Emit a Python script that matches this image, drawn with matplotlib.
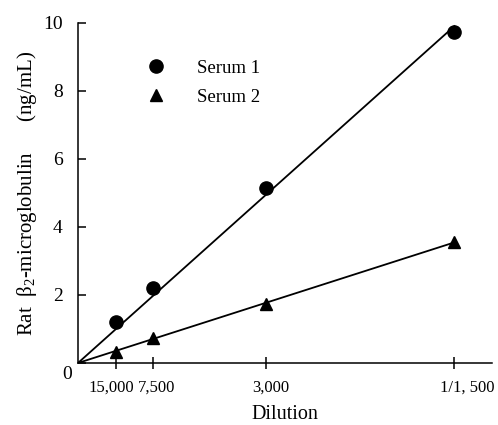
import matplotlib
matplotlib.use("Agg")
import matplotlib.pyplot as plt
import matplotlib.transforms as mtransforms
import numpy as np

plt.rcParams["font.family"] = ["Liberation Serif", "DejaVu Serif"]
plt.rcParams["mathtext.fontset"] = "custom"
plt.rcParams["mathtext.rm"] = "Liberation Serif"
plt.rcParams["mathtext.it"] = "Liberation Serif:italic"

# x = relative concentration (1/dilution, in units of 1/15000)
dilution_x = [1, 2, 5, 10]
dilution_labels = ["15,000", "7,500", "3,000", "1/1, 500"]
serum1 = [1.21, 2.22, 5.15, 9.74]
serum2 = [0.33, 0.74, 1.74, 3.56]
y_ticks = [0, 2, 4, 6, 8, 10]

fig = plt.figure(figsize=(4.98, 4.25), dpi=100)
ax = fig.add_axes([0.1566, 0.1459, 0.8314, 0.8])

x = np.array(dilution_x, dtype=float)

# Fitted lines through origin
for vals in (serum1, serum2):
    v = np.array(vals)
    slope = (x * v).sum() / (x * x).sum()
    xx = np.array([0, x.max()])
    ax.plot(xx, slope * xx, color="black", linewidth=1.3, zorder=2)

ax.plot(x, serum1, "o", color="black", markersize=9.5, label="Serum 1", zorder=3)
ax.plot(x, serum2, "^", color="black", markersize=9, label="Serum 2", zorder=3)

ax.set_xlim(0, 11)
ax.set_ylim(0, 10)

ax.spines["top"].set_visible(False)
ax.spines["right"].set_visible(False)
ax.spines["left"].set_linewidth(1.1)
ax.spines["bottom"].set_linewidth(1.1)

ax.set_yticks(y_ticks)
ax.set_yticklabels([""] + [str(t) for t in y_ticks[1:]])
ax.tick_params(axis="y", direction="in", length=6, width=1.1, pad=11, labelsize=14)

# the "0" sits a little below the origin
zero = ax.text(67 / 498, 0, "0", fontsize=14, ha="center", va="center",
               transform=mtransforms.blended_transform_factory(fig.transFigure, ax.transData)
               + mtransforms.ScaledTranslation(0, -0.12, fig.dpi_scale_trans))

ax.set_xticks(dilution_x)
ax.set_xticklabels(dilution_labels)
ax.tick_params(axis="x", direction="inout", length=8, width=1.1, pad=8, labelsize=12)
offsets = [-4, 3, 5, 13]
for lbl, dx in zip(ax.get_xticklabels(), offsets):
    lbl.set_transform(lbl.get_transform()
                      + mtransforms.ScaledTranslation(dx / 100, 0, fig.dpi_scale_trans))

ax.set_xlabel("Dilution", fontsize=14.5, labelpad=7)
ax.set_ylabel("Rat  β$_2$-microglobulin      (ng/mL)", fontsize=15, labelpad=3)

ax.legend(loc="upper left", bbox_to_anchor=(0.148, 0.915), frameon=False, fontsize=13.5,
          handlelength=1.0, handletextpad=1.7, labelspacing=0.65, borderaxespad=0)

fig.savefig("out.png", dpi=100)
